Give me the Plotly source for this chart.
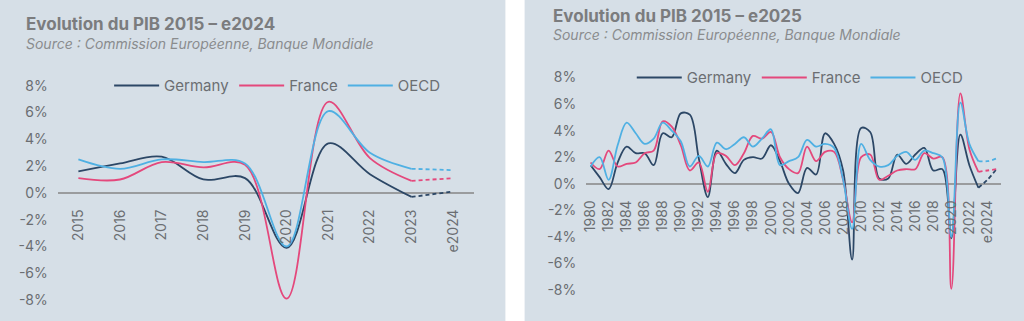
import plotly.graph_objects as go

# figure size; the plotting "paper" sits 8 px inside the figure on every side,
# so positions below are given in figure pixels and converted to paper fractions
FIG_W, FIG_H, INSET = 1024, 321, 8
PAPER_W, PAPER_H = FIG_W - 2 * INSET, FIG_H - 2 * INSET

# ---- data: annual GDP growth, % ----
years_short = ["2015", "2016", "2017", "2018", "2019", "2020", "2021", "2022", "2023", "e2024"]
germany_short = [1.6, 2.2, 2.7, 1.0, 1.1, -4.1, 3.7, 1.4, -0.3, 0.1]
france_short = [1.1, 1.0, 2.3, 1.9, 2.1, -7.9, 6.8, 2.6, 0.9, 1.1]
oecd_short = [2.5, 1.8, 2.5, 2.3, 2.2, -4.0, 6.1, 3.0, 1.8, 1.7]

years_long = [str(y) for y in range(1980, 2024)] + ["e2024", "e2025"]
germany_long = [1.4, 0.5, -0.4, 1.6, 2.8, 2.3, 2.3, 1.4, 3.8, 3.5,
                5.3, 5.2, 1.9, -1.0, 2.5, 1.5, 0.8, 1.8, 2.0, 1.9,
                2.9, 1.7, 0.0, -0.7, 1.2, 0.7, 3.8, 3.0, 1.0, -5.7,
                4.2, 3.9, 0.4, 0.4, 2.2, 1.5, 2.2, 2.7, 1.0, 1.1,
                -4.1, 3.7, 1.4, -0.3, 0.3, 1.1]
france_long = [1.6, 1.1, 2.5, 1.3, 1.5, 1.6, 2.3, 2.5, 4.7, 4.3,
               2.9, 1.0, 1.6, -0.6, 2.3, 2.1, 1.4, 2.3, 3.6, 3.4,
               3.9, 2.0, 1.1, 0.8, 2.8, 1.7, 2.4, 2.4, 0.3, -2.9,
               2.0, 2.2, 0.3, 0.6, 1.0, 1.1, 1.1, 2.3, 1.9, 2.0,
               -7.9, 6.8, 2.6, 0.9, 1.0, 1.1]
oecd_long = [1.3, 2.0, 0.3, 2.9, 4.6, 3.8, 3.0, 3.4, 4.6, 4.0,
             3.2, 1.3, 2.1, 1.3, 3.1, 2.6, 3.0, 3.5, 2.8, 3.4,
             4.1, 1.4, 1.7, 2.0, 3.3, 2.8, 3.0, 2.7, 0.3, -3.4,
             3.0, 1.8, 1.3, 1.4, 2.1, 2.4, 1.8, 2.5, 2.3, 2.0,
             -4.0, 6.1, 3.0, 1.7, 1.7, 1.9]

long_ticks = years_long[0:44:2] + ["e2024"]
y_ticks = [8, 6, 4, 2, 0, -2, -4, -6, -8]
y_ticktext = [f"{v}%" for v in y_ticks]
first_estimate_short = years_short.index("2023")
first_estimate_long = years_long.index("2023")

# ---- styling ----
FONT = "Inter, Roboto, 'Noto Sans', sans-serif"
PANEL_BG = "#d6dfe7"
TEXT_GREY = "#6b6e72"
TITLE_GREY = "#7b7c7e"
COLORS = {"Germany": "#2c4766", "France": "#e4487c", "OECD": "#4fb0e3"}
LW = 1.8
Y_RANGE = [-8, 8]

fig = go.Figure()


def add_panel(xs, series, split, xa, ya, legend):
    for name, vals in series:
        fig.add_trace(go.Scatter(
            x=xs[:split + 1], y=vals[:split + 1], mode="lines", name=name,
            line=dict(color=COLORS[name], width=LW, shape="spline", smoothing=1.0),
            xaxis=xa, yaxis=ya, legend=legend, hoverinfo="skip"))
        fig.add_trace(go.Scatter(
            x=xs[split:], y=vals[split:], mode="lines", name=name, showlegend=False,
            line=dict(color=COLORS[name], width=LW, dash="4px,3px",
                      shape="spline", smoothing=1.0),
            xaxis=xa, yaxis=ya, legend=legend, hoverinfo="skip"))


add_panel(years_short,
          [("Germany", germany_short), ("France", france_short), ("OECD", oecd_short)],
          first_estimate_short, "x", "y", "legend")
add_panel(years_long,
          [("Germany", germany_long), ("France", france_long), ("OECD", oecd_long)],
          first_estimate_long, "x2", "y2", "legend2")


def px_x(p):
    return (p - INSET) / PAPER_W


def px_y(p):
    return 1 - (p - INSET) / PAPER_H


def zero_position(domain):
    lo, hi = domain
    return lo + (0 - Y_RANGE[0]) / (Y_RANGE[1] - Y_RANGE[0]) * (hi - lo)


y1_dom = [px_y(300), px_y(85)]
y2_dom = [px_y(290), px_y(76.7)]

xaxis_common = dict(
    type="category", showgrid=False, showline=False, zeroline=False,
    tickangle=-90, tickfont=dict(family=FONT, size=14, color=TEXT_GREY),
    ticks="outside", ticklen=10, tickcolor="rgba(0,0,0,0)", anchor="free",
    fixedrange=True,
)
yaxis_common = dict(
    range=Y_RANGE, tickvals=y_ticks, ticktext=y_ticktext, showgrid=False,
    showline=False, zeroline=True, zerolinecolor="#9a9c9e", zerolinewidth=1.6,
    tickfont=dict(family=FONT, size=14, color=TEXT_GREY),
    ticks="outside", ticklen=6, tickcolor="rgba(0,0,0,0)", fixedrange=True,
)

legend_common = dict(
    orientation="h", bgcolor="rgba(0,0,0,0)", font=dict(family=FONT, size=15, color=TEXT_GREY),
    xanchor="left", yanchor="middle", itemwidth=45, tracegroupgap=0,
)

fig.update_layout(
    width=FIG_W, height=FIG_H, margin=dict(l=0, r=0, t=0, b=0),
    paper_bgcolor=PANEL_BG, plot_bgcolor="rgba(0,0,0,0)",
    showlegend=True,
    xaxis=dict(xaxis_common, domain=[px_x(60), px_x(472)], range=[-0.5, len(years_short) - 0.5],
               categoryorder="array", categoryarray=years_short,
               position=zero_position(y1_dom)),
    yaxis=dict(yaxis_common, domain=y1_dom, anchor="x"),
    xaxis2=dict(xaxis_common, domain=[px_x(582.8), px_x(993.2)], range=[-0.5, len(years_long) - 0.5],
                categoryorder="array", categoryarray=years_long,
                tickmode="array", tickvals=long_ticks, ticktext=long_ticks,
                position=zero_position(y2_dom)),
    yaxis2=dict(yaxis_common, domain=y2_dom, anchor="x2"),
    legend=dict(legend_common, x=px_x(111), y=px_y(85)),
    legend2=dict(legend_common, x=px_x(628), y=px_y(77)),
    shapes=[
        # white gutter between the two panels, running the full figure height
        dict(type="rect", xref="paper", yref="paper", x0=px_x(503), x1=px_x(522),
             y0=px_y(FIG_H + 2), y1=px_y(-2),
             fillcolor="white", line=dict(width=0), layer="below"),
    ],
    annotations=[
        dict(text="<b>Evolution du PIB 2015 – e2024</b>", xref="paper", yref="paper",
             x=px_x(27), y=px_y(23.5), xanchor="left", yanchor="middle", showarrow=False,
             font=dict(family=FONT, size=17, color=TITLE_GREY)),
        dict(text="<i>Source : Commission Européenne, Banque Mondiale</i>", xref="paper",
             yref="paper", x=px_x(27), y=px_y(42.5), xanchor="left", yanchor="middle",
             showarrow=False, font=dict(family=FONT, size=14, color="#8a8c8e")),
        dict(text="<b>Evolution du PIB 2015 – e2025</b>", xref="paper", yref="paper",
             x=px_x(548), y=px_y(15.5), xanchor="left", yanchor="middle", showarrow=False,
             font=dict(family=FONT, size=17, color=TITLE_GREY)),
        dict(text="<i>Source : Commission Européenne, Banque Mondiale</i>", xref="paper",
             yref="paper", x=px_x(548), y=px_y(34), xanchor="left", yanchor="middle",
             showarrow=False, font=dict(family=FONT, size=14, color="#8a8c8e")),
    ],
)

fig.write_html("out.html", config={"displayModeBar": False})
